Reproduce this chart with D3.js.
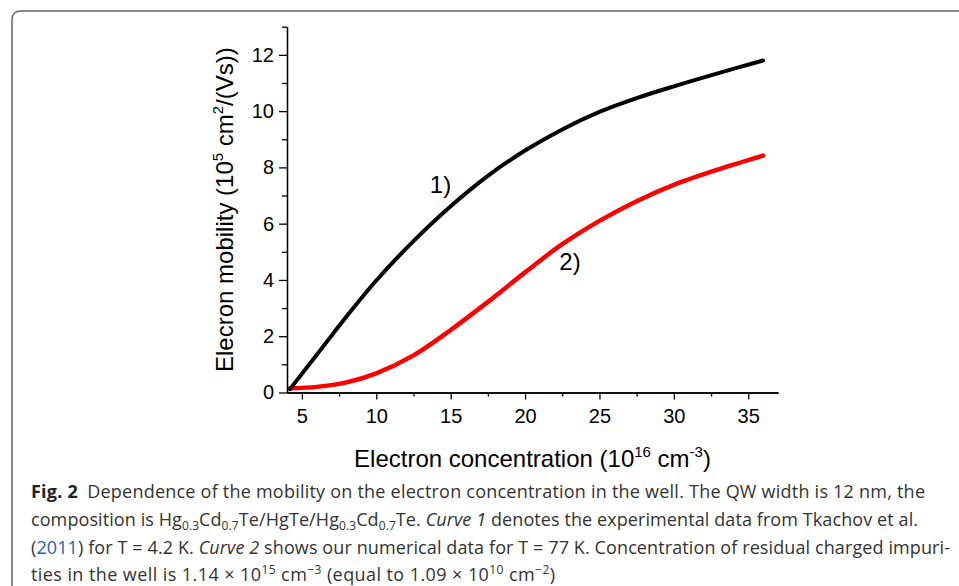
<!DOCTYPE html>
<html>
<head>
<meta charset="utf-8">
<script src="https://cdn.jsdelivr.net/npm/d3@7"></script>
<style>
  body { margin: 0; background: #fff; }
  svg { display: block; }
  .axis path, .axis line { stroke: #000; stroke-width: 1.3; }
  .title { font-family: "Liberation Sans", Arial, sans-serif; font-size: 24px; fill: #000; }
  .caption { font-family: "Open Sans", "Noto Sans", sans-serif; font-size: 18px; fill: #333; }
</style>
</head>
<body>
<svg id="chart" width="959" height="586"></svg>
<script>
//values
var concentration = [4.2, 6, 8, 10, 12.5, 15, 17.5, 20, 22.5, 25, 27.5, 30, 33, 36];
var mobility1 = [0.12, 1.34, 2.7, 3.98, 5.38, 6.62, 7.7, 8.6, 9.35, 9.97, 10.46, 10.88, 11.35, 11.8];
var mobility2 = [0.15, 0.2, 0.36, 0.68, 1.32, 2.22, 3.22, 4.27, 5.27, 6.1, 6.8, 7.38, 7.93, 8.42];
var xTicks = [5, 10, 15, 20, 25, 30, 35];
var xMinor = [7.5, 12.5, 17.5, 22.5, 27.5, 32.5];
var yTicks = [0, 2, 4, 6, 8, 10, 12];
var yMinor = [1, 3, 5, 7, 9, 11, 13];

var svg = d3.select('#chart');

// frame round the figure
svg.append("path")
	.attr("d", "M12,586 L12,20 Q12,11 21,11 L959,11")
	.attr("fill", "none")
	.attr("stroke", "#666")
	.attr("stroke-width", 1.5);

var margin = {top: 26.7, left: 287, right: 778, bottom: 392.5};

var x = d3.scaleLinear()
	.domain([4, 37])
	.range([margin.left, margin.right]);

var y = d3.scaleLinear()
	.domain([0, 13])
	.range([margin.bottom, margin.top]);

// minor ticks first
svg.append("g")
	.attr("class", "axis")
	.attr("transform", "translate(0," + margin.bottom + ")")
	.call(d3.axisBottom(x).tickValues(xMinor).tickSize(4).tickFormat("").tickSizeOuter(0));

svg.append("g")
	.attr("class", "axis")
	.attr("transform", "translate(" + margin.left + ",0)")
	.call(d3.axisLeft(y).tickValues(yMinor).tickSize(5).tickFormat("").tickSizeOuter(0));

var xAxis = svg.append("g")
	.attr("class", "axis")
	.attr("transform", "translate(0," + margin.bottom + ")")
	.call(d3.axisBottom(x).tickValues(xTicks).tickSize(7).tickPadding(9).tickSizeOuter(0));

var yAxis = svg.append("g")
	.attr("class", "axis")
	.attr("transform", "translate(" + margin.left + ",0)")
	.call(d3.axisLeft(y).tickValues(yTicks).tickSize(8).tickPadding(5).tickSizeOuter(0));

[xAxis, yAxis].forEach(function(a) {
	a.attr("font-size", null).attr("font-family", null);
	a.selectAll("text")
		.style("font-family", "'Liberation Sans', Arial, sans-serif")
		.style("font-size", "20px")
		.style("fill", "#000");
});

// axis titles
var xt = svg.append("text")
	.attr("class", "title")
	.attr("text-anchor", "middle")
	.attr("x", (margin.left + margin.right) / 2)
	.attr("y", 466.5);
xt.append("tspan").text("Electron concentration (10");
xt.append("tspan").attr("font-size", "15px").attr("dy", -10).text("16");
xt.append("tspan").attr("dy", 10).text(" cm");
xt.append("tspan").attr("font-size", "15px").attr("dy", -10).text("-3");
xt.append("tspan").attr("dy", 10).text(")");

var yt = svg.append("text")
	.attr("class", "title")
	.attr("text-anchor", "middle")
	.attr("transform", "translate(233," + ((margin.top + margin.bottom) / 2) + ") rotate(-90)");
yt.append("tspan").text("Elecron mobility (10");
yt.append("tspan").attr("font-size", "15px").attr("dy", -10).text("5");
yt.append("tspan").attr("dy", 10).text(" cm");
yt.append("tspan").attr("font-size", "15px").attr("dy", -10).text("2");
yt.append("tspan").attr("dy", 10).text("/(Vs))");

// curves
var line = d3.line()
	.x(function(d, i) { return x(concentration[i]); })
	.y(function(d) { return y(d); })
	.curve(d3.curveCatmullRom.alpha(0.5));

svg.append("path")
	.datum(mobility2)
	.attr("fill", "none")
	.attr("stroke", "#ff0000")
	.attr("stroke-width", 4.5)
	.attr("stroke-linecap", "round")
	.attr("d", line);

svg.append("path")
	.datum(mobility1)
	.attr("fill", "none")
	.attr("stroke", "#000")
	.attr("stroke-width", 4)
	.attr("stroke-linecap", "round")
	.attr("d", line);

svg.append("text")
	.attr("class", "title")
	.attr("x", x(13.6))
	.attr("y", y(7.1))
	.text("1)");

svg.append("text")
	.attr("class", "title")
	.attr("x", x(22.3))
	.attr("y", y(4.36))
	.text("2)");

// caption
var capX = 31;
var c1 = svg.append("text").attr("class", "caption").attr("x", capX).attr("y", 498).attr("textLength", 894).attr("lengthAdjust", "spacing");
c1.append("tspan").attr("font-weight", "bold").attr("fill", "#222").text("Fig. 2");
c1.append("tspan").text("\u2002Dependence of the mobility on the electron concentration in the well. The QW width is 12 nm, the");

var c2 = svg.append("text").attr("class", "caption").attr("x", capX).attr("y", 526).attr("textLength", 887).attr("lengthAdjust", "spacing");
c2.append("tspan").text("composition is Hg");
c2.append("tspan").attr("font-size", "12px").attr("dy", 4).text("0.3");
c2.append("tspan").attr("dy", -4).text("Cd");
c2.append("tspan").attr("font-size", "12px").attr("dy", 4).text("0.7");
c2.append("tspan").attr("dy", -4).text("Te/HgTe/Hg");
c2.append("tspan").attr("font-size", "12px").attr("dy", 4).text("0.3");
c2.append("tspan").attr("dy", -4).text("Cd");
c2.append("tspan").attr("font-size", "12px").attr("dy", 4).text("0.7");
c2.append("tspan").attr("dy", -4).text("Te. ");
c2.append("tspan").attr("font-style", "italic").text("Curve 1");
c2.append("tspan").text(" denotes the experimental data from Tkachov et al.");

var c3 = svg.append("text").attr("class", "caption").attr("x", capX).attr("y", 554).attr("textLength", 919).attr("lengthAdjust", "spacing");
c3.append("tspan").text("(");
c3.append("tspan").attr("fill", "#2a5db0").text("2011");
c3.append("tspan").text(") for T = 4.2 K. ");
c3.append("tspan").attr("font-style", "italic").text("Curve 2");
c3.append("tspan").text(" shows our numerical data for T = 77 K. Concentration of residual charged impuri-");

var c4 = svg.append("text").attr("class", "caption").attr("x", capX).attr("y", 581).attr("textLength", 524).attr("lengthAdjust", "spacing");
c4.append("tspan").text("ties in the well is 1.14 \u00d7 10");
c4.append("tspan").attr("font-size", "12px").attr("dy", -7).text("15");
c4.append("tspan").attr("dy", 7).text(" cm");
c4.append("tspan").attr("font-size", "12px").attr("dy", -7).text("\u22123");
c4.append("tspan").attr("dy", 7).text(" (equal to 1.09 \u00d7 10");
c4.append("tspan").attr("font-size", "12px").attr("dy", -7).text("10");
c4.append("tspan").attr("dy", 7).text(" cm");
c4.append("tspan").attr("font-size", "12px").attr("dy", -7).text("\u22122");
c4.append("tspan").attr("dy", 7).text(")");
</script>
</body>
</html>
